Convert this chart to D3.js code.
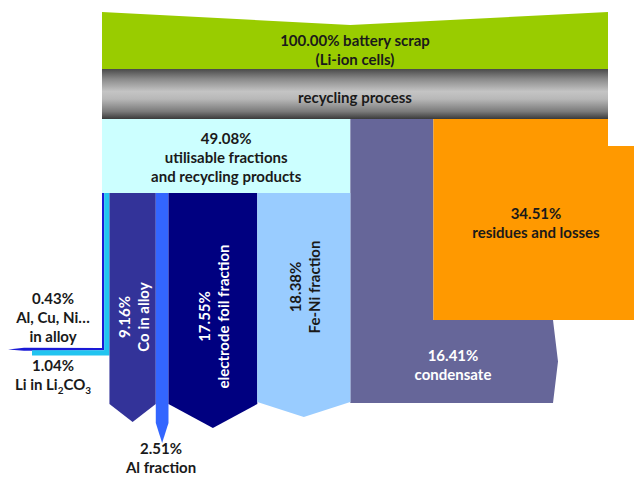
<!DOCTYPE html>
<html>
<head>
<meta charset="utf-8">
<script src="https://cdn.jsdelivr.net/npm/d3@7"></script>
<style>
  body { margin: 0; background: #fff; }
  svg { display: block; }
  text { font-family: Lato, "Open Sans", sans-serif; font-weight: 700; font-size: 15px; }
</style>
</head>
<body>
<svg id="chart" width="634" height="477"></svg>
<script>
// mass balance of the recycling process, % of battery scrap input
const inputNames = ["battery scrap\n(Li-ion cells)"];
const processNames = ["recycling process"];
const outputNames = ["utilisable fractions\nand recycling products", "condensate", "residues and losses"];
const outputValues = [49.08, 16.41, 34.51];

// split of the utilisable fractions, left to right
const fractionNames = ["Al, Cu, Ni…\nin alloy", "Li in Li2CO3", "Co in alloy", "Al fraction", "electrode foil fraction", "Fe-Ni fraction"];
const fractionValues = [0.43, 1.04, 9.16, 2.51, 17.55, 18.38];

// colours
const inputColor = "#99cc00";
const outputColors = ["#ccffff", "#666699", "#ff9900"];
const fractionColors = ["#1a1ad6", "#22c4f0", "#333399", "#3366ff", "#000080", "#99ccff"];

// vertical layout (px)
const Y = {
    top: 12, dip: 25, inputBottom: 69, processBottom: 119, poolBottom: 193,
    turn: 320, residueStep: 146, leftTurn: 348, lineH: 19
};

const svg = d3.select("#chart");
const total = d3.sum(outputValues);
const x = d3.scaleLinear().domain([0, total]).range([102, 608]);
const w = v => x(v) - x(0);
const pct = d3.format(".2f");
const line = d3.line();

// gradient of the grey process band
const grad = svg.append("defs").append("linearGradient")
    .attr("id", "proc").attr("x1", 0).attr("y1", 0).attr("x2", 0).attr("y2", 1);
[[0, "#4a4a4a"], [0.2, "#8a8a8a"], [0.45, "#c4c4c4"], [0.6, "#b8b8b8"], [0.85, "#7a7a7a"], [1, "#3a3a3a"]]
    .forEach(s => grad.append("stop").attr("offset", s[0]).attr("stop-color", s[1]));

/** multi line label, centred on cx, cy */
function label(lines, cx, cy, color, rotate) {
    let g = svg.append("g")
        .attr("transform", `translate(${cx},${cy})` + (rotate ? " rotate(-90)" : ""));
    let t = g.append("text")
        .attr("text-anchor", "middle")
        .attr("fill", color || "#1a1a1a");
    lines.forEach((ln, i) => {
        let dy = (i - (lines.length - 1) / 2) * Y.lineH + 5.5;
        // chemical formulas: digits after a letter are subscripts
        let parts = ln.split(/(?<=[A-Za-z])(\d)/);
        parts.forEach((p, j) => {
            if (p === "") return;
            let ts = t.append("tspan").text(p);
            if (j === 0) ts.attr("x", 0).attr("y", dy);
            else if (j % 2 === 1) ts.attr("font-size", "10px").attr("dy", 4);
            else ts.attr("dy", -4);
        });
    });
}

// ---- input arrow (green) ----
let xDip = x(outputValues[0]);
svg.append("path")
    .attr("d", line([[x(0), Y.top], [xDip, Y.dip], [x(total), Y.top],
                     [x(total), Y.inputBottom], [x(0), Y.inputBottom]]) + "Z")
    .attr("fill", inputColor);

// ---- process band ----
svg.append("rect")
    .attr("x", x(0)).attr("y", Y.inputBottom)
    .attr("width", w(total)).attr("height", Y.processBottom - Y.inputBottom)
    .attr("fill", "url(#proc)");

// ---- outputs ----
let cum = d3.cumsum(outputValues);
let starts = [0].concat(Array.from(cum.slice(0, -1)));

// utilisable pool
svg.append("rect")
    .attr("x", x(starts[0])).attr("y", Y.processBottom)
    .attr("width", w(outputValues[0])).attr("height", Y.poolBottom - Y.processBottom)
    .attr("fill", outputColors[0]);

// condensate: down, then turning right
let c0 = x(starts[1]), c1 = x(cum[1]);
let cBottom = Y.turn + w(outputValues[1]);
svg.append("path")
    .attr("d", line([[c0, Y.processBottom], [c1, Y.processBottom], [c1, Y.turn],
                     [553, Y.turn], [558, (Y.turn + cBottom) / 2], [553, cBottom], [c0, cBottom]]) + "Z")
    .attr("fill", outputColors[1]);

// residues and losses
let r0 = x(starts[2]), r1 = x(cum[2]);
svg.append("path")
    .attr("d", line([[r0, Y.processBottom], [r1, Y.processBottom], [r1, Y.residueStep],
                     [640, Y.residueStep], [640, Y.turn], [r0, Y.turn]]) + "Z")
    .attr("fill", outputColors[2]);

// ---- utilisable fractions ----
let fcum = d3.cumsum(fractionValues);
let fstart = [0].concat(Array.from(fcum.slice(0, -1)));
// arrow ends (stem end, tip) for the vertical ones
const arrowEnd = [null, null, [404, 422], [423, 443], [404, 428], [402, 417]];
const leftEnd = [8, 32];

fractionValues.forEach((v, i) => {
    let a = x(fstart[i]), b = x(fcum[i]);
    let pts;
    if (i < 2) {
        // thin streams turning left
        let ya = Y.leftTurn + (i === 0 ? 0 : w(fractionValues[0]));
        let yb = ya + w(v);
        if (i === 0) {
            pts = [[a, Y.poolBottom], [b, Y.poolBottom], [b, yb], [leftEnd[i] + 16, yb + 0.6],
                   [leftEnd[i], (ya + yb) / 2 + 0.3], [leftEnd[i] + 16, ya - 0.3], [a, ya]];
        } else {
            pts = [[a, Y.poolBottom], [b, Y.poolBottom], [b, yb], [leftEnd[i], yb], [leftEnd[i], ya], [a, ya]];
        }
    } else {
        let e = arrowEnd[i];
        pts = [[a, Y.poolBottom], [b, Y.poolBottom], [b, e[0]], [(a + b) / 2, e[1]], [a, e[0]]];
    }
    svg.append("path").attr("d", line(pts) + "Z").attr("fill", fractionColors[i]);
});

// ---- labels ----
label([pct(total) + "% " + inputNames[0].split("\n")[0], inputNames[0].split("\n")[1]],
      (x(0) + x(total)) / 2, 49.5);
label(processNames, (x(0) + x(total)) / 2, 97);
label([pct(outputValues[0]) + "%"].concat(outputNames[0].split("\n")), (x(0) + x(cum[0])) / 2, 157);
label([pct(outputValues[1]) + "%", outputNames[1]], 453, 364.5, "#ffffff");
label([pct(outputValues[2]) + "%", outputNames[2]], 536, 222.5);

const fracLabelPos = [[53, 317.5], [53, 374.5], [null, 317], [161, 458], [null, 316.5], [null, 287]];
const fracTextColor = ["#1a1a1a", "#1a1a1a", "#ffffff", "#1a1a1a", "#ffffff", "#1a1a1a"];
fractionValues.forEach((v, i) => {
    let lines = [pct(v) + "%"].concat(fractionNames[i].split("\n"));
    let p = fracLabelPos[i];
    let rotated = p[0] === null;
    let cx = rotated ? (x(fstart[i]) + x(fcum[i])) / 2 + 1 : p[0];
    label(lines, cx, p[1], fracTextColor[i], rotated);
});
</script>
</body>
</html>
